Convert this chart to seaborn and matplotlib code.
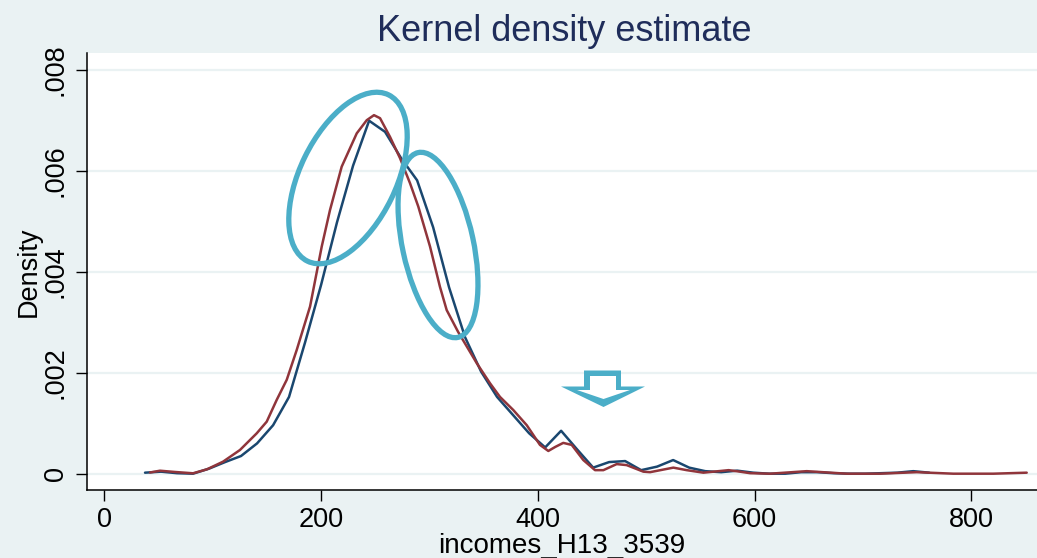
import matplotlib
matplotlib.use("Agg")
import matplotlib.pyplot as plt
import seaborn as sns
import pandas as pd
from matplotlib.patches import Ellipse, Polygon

# ---------------- data ----------------
navy_x = [37.4, 52.2, 66.9, 81.7, 96.5, 111.3, 126.0, 140.8, 155.6, 170.3,
          185.1, 199.9, 214.6, 229.4, 244.2, 258.9, 273.7, 288.5, 303.3, 318.0,
          332.8, 347.6, 362.3, 377.1, 391.9, 406.7, 421.4, 436.2, 451.0, 465.7,
          480.5, 495.3, 510.0, 524.8, 539.6, 554.4, 569.1, 583.9, 598.7, 613.4,
          628.2, 643.0, 657.7, 672.5, 687.3, 702.1, 716.8, 731.6, 746.4, 761.1]
navy_y = [0.00002, 0.00004, 0.00001, 0.0, 0.00010, 0.00023, 0.00035, 0.00060, 0.00096, 0.00152,
          0.00260, 0.00374, 0.00498, 0.00610, 0.00699, 0.00677, 0.00625, 0.00581, 0.00488, 0.00369,
          0.00270, 0.00202, 0.00152, 0.00116, 0.00080, 0.00052, 0.00085, 0.00048, 0.00012, 0.00023,
          0.00025, 0.00007, 0.00014, 0.00027, 0.00012, 0.00005, 0.00003, 0.00006, 0.00002, 0.0,
          0.0, 0.00003, 0.00003, 0.00001, 0.0, 0.0, 0.00001, 0.00002, 0.00005, 0.00002]

maroon_x = [42.0, 51.2, 65.1, 81.7, 94.6, 109.4, 125.0, 140.5, 149.7, 158.9,
            168.2, 177.4, 189.7, 200.5, 208.1, 218.9, 232.8, 242.0, 248.7, 254.3,
            263.5, 272.7, 282.0, 289.6, 300.4, 309.6, 315.8, 326.3, 343.5, 355.8,
            365.0, 377.3, 389.7, 401.9, 409.6, 416.0, 423.4, 431.2, 441.9, 452.7,
            460.4, 472.7, 481.9, 497.3, 503.5, 525.0, 537.3, 552.7, 576.0, 586.5,
            595.8, 614.2, 648.1, 685.0, 715.7, 749.6, 783.4, 820.3, 851.1]
maroon_y = [0.000024, 0.000059, 0.000034, 0.000008, 0.000087, 0.000238, 0.000469, 0.00080, 0.00103, 0.00146,
            0.00186, 0.00245, 0.00331, 0.00450, 0.00522, 0.00608, 0.00674, 0.00700, 0.00710, 0.00704,
            0.00667, 0.00625, 0.00575, 0.00529, 0.00450, 0.00370, 0.00324, 0.00281, 0.00219, 0.00179,
            0.00152, 0.00126, 0.00096, 0.00057, 0.00045, 0.00053, 0.00061, 0.00057, 0.00027, 0.00007,
            0.00007, 0.00019, 0.00017, 0.00004, 0.00003, 0.00012, 0.00007, 0.00002, 0.00007, 0.00004,
            0.00001, 0.0, 0.00005, 0.0, 0.0, 0.00003, 0.0, 0.0, 0.00002]

y_ticks = [0, 0.002, 0.004, 0.006, 0.008]
y_tick_labels = ["0", ".002", ".004", ".006", ".008"]
x_ticks = [0, 200, 400, 600, 800]
x_tick_labels = ["0", "200", "400", "600", "800"]

title = "Kernel density estimate"
x_label = "incomes_H13_3539"
y_label = "Density"

# ---------------- style ----------------
BG = "#EAF2F3"
NAVY = "#1A476F"
MAROON = "#90353B"
TEAL = "#4BAEC8"
TITLE_C = "#1F2D5A"

sns.set_theme(style="white")
plt.rcParams["font.family"] = ["Liberation Sans", "DejaVu Sans"]

W, H = 1037, 558
fig = plt.figure(figsize=(W / 100, H / 100), dpi=100, facecolor=BG)

L, R, T, B = 87, 1037, 53, 490
ax = fig.add_axes([L / W, (H - B) / H, (R - L) / W, (B - T) / H])
ax.set_facecolor("white")

df_navy = pd.DataFrame({"x": navy_x, "y": navy_y})
df_mar = pd.DataFrame({"x": maroon_x, "y": maroon_y})

for yt in y_ticks:
    ax.axhline(yt, color=BG, lw=1.6, zorder=0)

sns.lineplot(data=df_navy, x="x", y="y", ax=ax, color=NAVY, lw=1.8,
             estimator=None, sort=False, zorder=3)
sns.lineplot(data=df_mar, x="x", y="y", ax=ax, color=MAROON, lw=1.8,
             estimator=None, sort=False, zorder=4)

ax.set_xlim(-16.15, 860.6)
ax.set_ylim(-0.000323, 0.008331)

ax.set_xticks(x_ticks)
ax.set_xticklabels(x_tick_labels)
ax.set_yticks(y_ticks)
ax.set_yticklabels(y_tick_labels, rotation=90, va="center")

ax.tick_params(axis="both", which="major", direction="out", length=8, width=1.0,
               color="black", labelsize=19.5, labelcolor="black", bottom=True, left=True)
ax.tick_params(axis="x", pad=4)
ax.tick_params(axis="y", pad=5)

for s in ["top", "right"]:
    ax.spines[s].set_visible(False)
for s in ["left", "bottom"]:
    ax.spines[s].set_color("black")
    ax.spines[s].set_linewidth(1.1)

ax.set_xlabel(x_label, fontsize=20, color="black", labelpad=0.5)
ax.set_ylabel(y_label, fontsize=19.5, color="black", labelpad=1)

fig.text(564.5 / W, 1 - 41 / H, title, ha="center", va="baseline",
         fontsize=26, color=TITLE_C)

# ---------------- annotations (pixel overlay) ----------------
ov = fig.add_axes([0, 0, 1, 1], facecolor="none")
ov.set_xlim(0, W)
ov.set_ylim(H, 0)
ov.axis("off")

ov.add_patch(Ellipse((348, 178), width=185, height=96, angle=-64,
                     fill=False, edgecolor=TEAL, lw=3.8, zorder=5))
ov.add_patch(Ellipse((438, 245), width=189, height=71, angle=77.9,
                     fill=False, edgecolor=TEAL, lw=3.8, zorder=5))

outer = [(584, 370.5), (621, 370.5), (621, 386.5), (645, 386.5), (603.5, 407),
         (561, 386.5), (584, 386.5)]
inner = [(590, 376), (616, 376), (616, 390), (630, 390), (603.5, 399),
         (577, 390), (590, 390)]
ov.add_patch(Polygon(outer, closed=True, facecolor=TEAL, edgecolor="none", zorder=5))
ov.add_patch(Polygon(inner, closed=True, facecolor="white", edgecolor="none", zorder=6))

fig.savefig("out.png", dpi=100, facecolor=BG)
